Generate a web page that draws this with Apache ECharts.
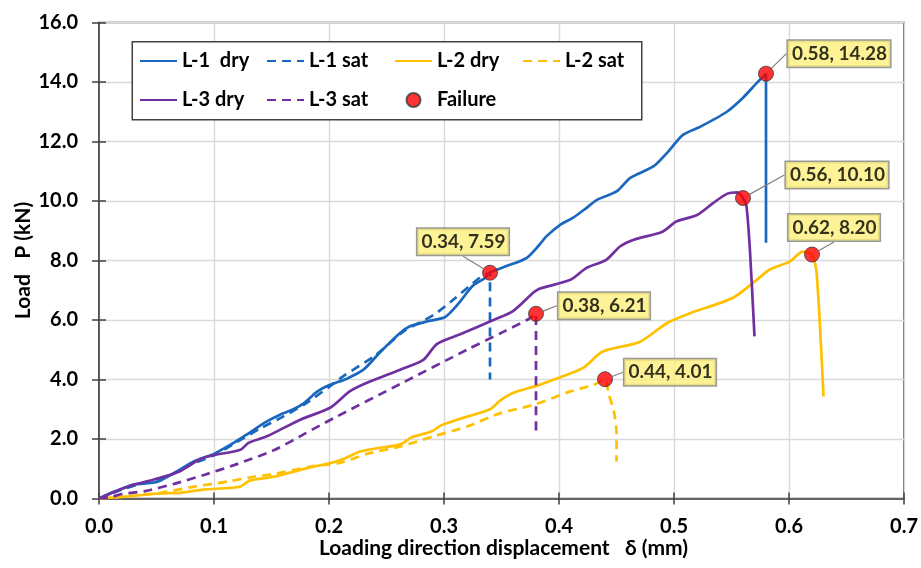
<!DOCTYPE html>
<html>
<head>
<meta charset="utf-8">
<script src="https://cdn.jsdelivr.net/npm/echarts@6/dist/echarts.min.js"></script>
<style>
  html, body { margin: 0; padding: 0; background: #ffffff; }
  #chart { width: 921px; height: 568px; }
</style>
</head>
<body>
<div id="chart"></div>
<script>
// Axis ticks
const xTickValues = [0.0, 0.1, 0.2, 0.3, 0.4, 0.5, 0.6, 0.7];
const yTickValues = [0.0, 2.0, 4.0, 6.0, 8.0, 10.0, 12.0, 14.0, 16.0];

// Load–displacement curves: [δ (mm), P (kN)]
const l1Dry = [[0,0],[0.014,0.24],[0.03,0.47],[0.045,0.52],[0.053,0.6],[0.07,0.96],[0.082,1.24],[0.094,1.41],[0.10,1.5],[0.117,1.87],[0.128,2.14],[0.146,2.59],[0.157,2.81],[0.169,3.0],[0.178,3.2],[0.19,3.6],[0.201,3.82],[0.215,4.02],[0.23,4.33],[0.244,4.9],[0.262,5.57],[0.27,5.78],[0.285,5.95],[0.3,6.08],[0.305,6.23],[0.314,6.62],[0.325,7.15],[0.336,7.42],[0.34,7.6],[0.355,7.82],[0.372,8.09],[0.383,8.53],[0.389,8.81],[0.401,9.2],[0.412,9.43],[0.424,9.77],[0.433,10.04],[0.45,10.32],[0.462,10.78],[0.482,11.16],[0.494,11.62],[0.508,12.23],[0.523,12.5],[0.546,13.0],[0.56,13.47],[0.572,13.97],[0.58,14.28],[0.58,8.6]];
const l1Sat = [[0,0],[0.02,0.3],[0.045,0.6],[0.06,0.75],[0.08,1.15],[0.1,1.45],[0.12,1.9],[0.14,2.35],[0.16,2.75],[0.18,3.2],[0.2,3.75],[0.212,4.1],[0.241,4.83],[0.265,5.62],[0.291,6.17],[0.308,6.68],[0.331,7.42],[0.34,7.59],[0.34,4.0]];
const l2Dry = [[0,0],[0.025,0.07],[0.049,0.16],[0.072,0.2],[0.089,0.29],[0.118,0.37],[0.123,0.4],[0.131,0.6],[0.153,0.74],[0.182,1.03],[0.204,1.22],[0.215,1.37],[0.227,1.58],[0.244,1.7],[0.262,1.82],[0.272,2.06],[0.289,2.25],[0.297,2.45],[0.314,2.68],[0.34,3.0],[0.349,3.3],[0.36,3.55],[0.383,3.82],[0.395,3.99],[0.421,4.39],[0.438,4.94],[0.47,5.26],[0.494,5.9],[0.514,6.23],[0.551,6.74],[0.572,7.35],[0.583,7.69],[0.601,7.97],[0.612,8.3],[0.62,8.2],[0.624,7.59],[0.63,3.43]];
const l2Sat = [[0,0],[0.031,0.1],[0.055,0.2],[0.083,0.4],[0.112,0.57],[0.136,0.74],[0.153,0.83],[0.185,1.08],[0.21,1.2],[0.233,1.5],[0.262,1.75],[0.291,2.09],[0.32,2.42],[0.349,2.87],[0.378,3.15],[0.41,3.6],[0.43,3.82],[0.44,4.01],[0.443,3.55],[0.448,2.87],[0.45,2.2],[0.45,1.24]];
const l3Dry = [[0,0],[0.013,0.22],[0.03,0.46],[0.047,0.63],[0.07,0.91],[0.088,1.33],[0.099,1.45],[0.123,1.64],[0.13,1.87],[0.146,2.09],[0.175,2.65],[0.201,3.05],[0.218,3.6],[0.233,3.89],[0.262,4.33],[0.282,4.66],[0.294,5.2],[0.314,5.52],[0.343,6.0],[0.36,6.3],[0.378,6.93],[0.383,7.05],[0.41,7.35],[0.424,7.75],[0.441,8.02],[0.453,8.47],[0.465,8.7],[0.49,8.97],[0.502,9.31],[0.52,9.53],[0.534,9.93],[0.546,10.24],[0.555,10.29],[0.56,10.1],[0.563,9.82],[0.566,8.36],[0.57,5.45]];
const l3Sat = [[0,0],[0.01,0.05],[0.02,0.15],[0.04,0.25],[0.066,0.5],[0.092,0.8],[0.118,1.13],[0.153,1.64],[0.179,2.18],[0.204,2.7],[0.262,3.85],[0.32,5.0],[0.352,5.61],[0.372,6.0],[0.38,6.21],[0.38,2.2]];

// Failure points
const failurePoints = [[0.58,14.28],[0.56,10.10],[0.62,8.20],[0.34,7.59],[0.38,6.21],[0.44,4.01]];
// Callout placement (label centre relative to the marker centre, px)
const calloutOffsets = [[73,-20],[94,-23],[22,-27],[-27,-31],[68,-8],[65,-7]];

const xAxisTitle = 'Loading direction displacement   \u03b4 (mm)';
const yAxisTitle = 'Load   P (kN)';

const FONT = 'Lato';
const BLUE = '#1A67BE', ORANGE = '#FFC000', PURPLE = '#7030A0';
const AXIS_COLOR = '#404040';
const DASH = [9, 6];
const TITLE_FONT = 'bold 21px Lato';

function boldText(size, extra) {
  return Object.assign({ fontFamily: FONT, fontWeight: 'bold', fontSize: size, color: '#000000' }, extra || {});
}

function lineSeries(name, data, color, dashed) {
  return {
    name, type: 'line', data,
    symbol: 'none', smooth: 0.25,
    lineStyle: { color, width: 2.7, type: dashed ? DASH : 'solid', cap: 'butt' },
    itemStyle: { color },
    emphasis: { disabled: true },
    z: 3
  };
}

// Line entries show only the stroke; the marker entry keeps its symbol
function legendColumn(left, names) {
  return {
    left, top: 49, orient: 'vertical',
    itemWidth: 37, itemHeight: 14, itemGap: 15, padding: 0,
    textStyle: boldText(20, { lineHeight: 24 }),
    selectedMode: false, z: 10,
    data: names.map(n => n === 'Failure'
      ? { name: n }
      : { name: n, itemStyle: { opacity: 0 } })
  };
}

const xMin = xTickValues[0], xMax = xTickValues[xTickValues.length - 1];
const yMin = yTickValues[0], yMax = yTickValues[yTickValues.length - 1];
const xStep = xTickValues[1] - xTickValues[0];
const yStep = yTickValues[1] - yTickValues[0];

const GRID = { left: 99, right: 17, top: 22.5, bottom: 69.5 };
const W = 921, H = 568;
const plotCenterX = GRID.left + (W - GRID.left - GRID.right) / 2;
const plotCenterY = GRID.top + (H - GRID.top - GRID.bottom) / 2;

const chart = echarts.init(document.getElementById('chart'), null, { renderer: 'canvas' });

const option = {
  animation: false,
  backgroundColor: '#ffffff',
  grid: Object.assign({
    show: true, borderColor: AXIS_COLOR, borderWidth: 1.5, backgroundColor: 'transparent'
  }, GRID),
  legend: [
    legendColumn(139, ['L-1  dry', 'L-3 dry']),
    legendColumn(266, ['L-1 sat', 'L-3 sat']),
    legendColumn(394, ['L-2 dry', 'Failure']),
    legendColumn(522, ['L-2 sat'])
  ],
  graphic: [{
    // legend frame
    type: 'rect', left: 131.5, top: 41, z: 8,
    shape: { width: 509.5, height: 78 },
    style: { fill: '#ffffff', stroke: AXIS_COLOR, lineWidth: 1.5 }
  }, {
    // x-axis title
    type: 'text', x: plotCenterX + 2, y: 548, z: 8,
    style: { text: xAxisTitle, font: TITLE_FONT, fill: '#000', align: 'center', verticalAlign: 'middle' }
  }, {
    // y-axis title
    type: 'text', x: 23, y: plotCenterY, rotation: Math.PI / 2, z: 8,
    style: { text: yAxisTitle, font: TITLE_FONT, fill: '#000', align: 'center', verticalAlign: 'middle' }
  }],
  xAxis: [{
    type: 'value', min: xMin, max: xMax, interval: xStep,
    axisLine: { show: true, onZero: false, lineStyle: { color: AXIS_COLOR, width: 1.5 } },
    axisTick: { show: true, length: 6, lineStyle: { color: AXIS_COLOR, width: 1.5 } },
    axisLabel: boldText(20, { margin: 18, formatter: v => v.toFixed(1) }),
    splitLine: { show: true, lineStyle: { color: '#d9d9d9', width: 1.4 } }
  }, {
    type: 'value', min: xMin, max: xMax, interval: xStep, position: 'bottom',
    axisLine: { show: false },
    axisTick: { show: true, inside: true, length: 6, lineStyle: { color: AXIS_COLOR, width: 1.5 } },
    axisLabel: { show: false },
    splitLine: { show: false }
  }],
  yAxis: [{
    type: 'value', min: yMin, max: yMax, interval: yStep,
    axisLine: { show: true, onZero: false, lineStyle: { color: AXIS_COLOR, width: 1.5 } },
    axisTick: { show: true, length: 7, lineStyle: { color: AXIS_COLOR, width: 1.5 } },
    axisLabel: boldText(20, { margin: 21, formatter: v => v.toFixed(1) }),
    splitLine: { show: true, lineStyle: { color: '#d9d9d9', width: 1.4 } }
  }, {
    type: 'value', min: yMin, max: yMax, interval: yStep, position: 'left',
    axisLine: { show: false },
    axisTick: { show: true, inside: true, length: 7, lineStyle: { color: AXIS_COLOR, width: 1.5 } },
    axisLabel: { show: false },
    splitLine: { show: false }
  }],
  series: [
    lineSeries('L-1  dry', l1Dry, BLUE, false),
    lineSeries('L-1 sat', l1Sat, BLUE, true),
    lineSeries('L-2 dry', l2Dry, ORANGE, false),
    lineSeries('L-2 sat', l2Sat, ORANGE, true),
    lineSeries('L-3 dry', l3Dry, PURPLE, false),
    lineSeries('L-3 sat', l3Sat, PURPLE, true),
    {
      name: 'Failure', type: 'scatter', data: failurePoints,
      symbol: 'circle', symbolSize: 15, z: 6,
      itemStyle: { color: '#FF0000', borderColor: '#3a3a3a', borderWidth: 1 },
      emphasis: { disabled: true },
      label: {
        show: true, position: 'inside',
        formatter: p => p.value[0].toFixed(2) + ', ' + p.value[1].toFixed(2),
        fontFamily: FONT, fontWeight: 'bold', fontSize: 19, color: '#000',
        backgroundColor: '#FCF07C', borderColor: '#808080', borderWidth: 1.5,
        padding: [4, 3, 3, 4]
      },
      labelLine: { show: true, lineStyle: { color: '#808080', width: 1.2 } },
      labelLayout: function (params) {
        const o = calloutOffsets[params.dataIndex];
        const r = params.rect;
        return {
          x: r.x + r.width / 2 + o[0],
          y: r.y + r.height / 2 + o[1],
          align: 'center', verticalAlign: 'middle'
        };
      }
    }
  ]
};

chart.setOption(option);
</script>
</body>
</html>
